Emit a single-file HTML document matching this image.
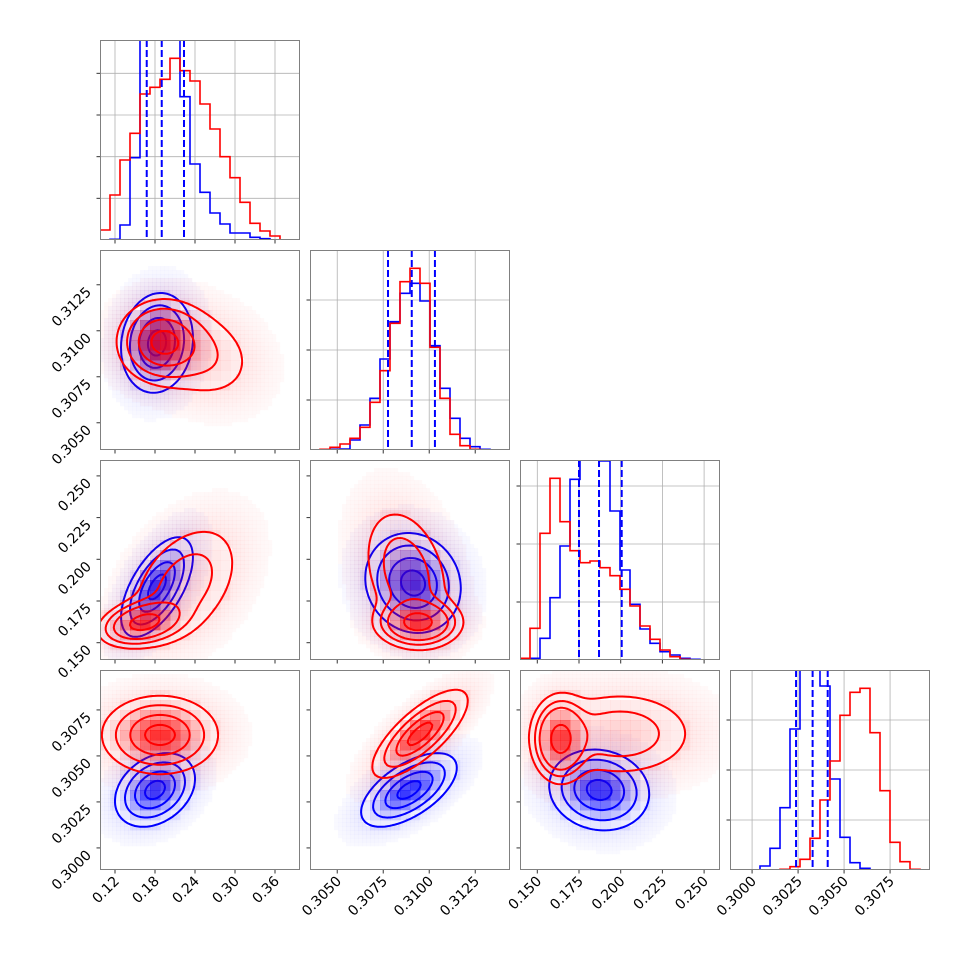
<!DOCTYPE html>
<html><head><meta charset="utf-8"><style>
html,body{margin:0;padding:0;background:#fff;}
svg{display:block;font-family:"DejaVu Sans","Liberation Sans",sans-serif;}
</style></head><body>
<svg id="chart" width="970" height="970" viewBox="0 0 970 970"></svg>
<script>
// ---- data ----
const paramLo = [0.0975, 0.30352, 0.13963, 0.29880];
const paramHi = [0.3975, 0.31439, 0.25953, 0.30967];
const tickP1 = [0.12, 0.18, 0.24, 0.30, 0.36];
const tickP2 = [0.3050, 0.3075, 0.3100, 0.3125];
const tickP3 = [0.150, 0.175, 0.200, 0.225, 0.250];
const tickP4 = [0.3000, 0.3025, 0.3050, 0.3075];
const tickLabP1 = ["0.12","0.18","0.24","0.30","0.36"];
const tickLabP2 = ["0.3050","0.3075","0.3100","0.3125"];
const tickLabP3 = ["0.150","0.175","0.200","0.225","0.250"];
const tickLabP4 = ["0.3000","0.3025","0.3050","0.3075"];
// histogram counts (20 bins each), scale: 600 = full panel height
const histRed1 = [30,135,240,320,438,458,482,545,508,477,408,333,250,187,113,50,27,12,0,0];
const histBlue1 = [0,2,45,247,700,750,720,700,430,228,143,81,48,21,21,8,4,0,0,0];
const histRed2 = [0,2,8,18,35,68,143,238,380,505,545,500,308,155,47,13,2,0,0,0];
const histBlue2 = [0,0,2,3,30,75,155,273,385,470,500,447,313,185,95,35,10,2,0,0];
const histRed3 = [5,95,380,545,415,328,292,297,277,253,212,162,102,62,30,10,2,0,0,0];
const histBlue3 = [0,5,65,187,342,542,700,700,597,447,270,167,93,50,25,15,5,2,0,0];
const histRed4 = [0,0,0,0,0,2,10,32,95,210,327,464,533,545,412,238,83,25,2,0];
const histBlue4 = [0,0,0,12,65,187,423,700,700,552,273,98,22,5,0,0,0,0,0,0];
const histYTicks1 = [125,250,375,500];
const histYTicks2 = [150,300,450];
const histYTicks3 = [174,348,522];
const histYTicks4 = [150,300,450];
const quantP1 = [0.1676, 0.1901, 0.2235];
const quantP2 = [0.30776, 0.30905, 0.31031];
const quantP3 = [0.1750, 0.1870, 0.2006];
const quantP4 = [0.30239, 0.30329, 0.30411];
// 2D gaussian-mixture components: [meanX, meanY, sdX, sdY, rho, weight]
const blue10 = [[0.183,0.30934,0.027,0.00136,0.1,1]];
const red10 = [[0.19,0.3094,0.033,0.0011,0,0.65],[0.25,0.3087,0.045,0.0014,-0.2,0.35]];
const blue20 = [[0.183,0.1834,0.027,0.0150,0.6,1]];
const red20 = [[0.162,0.162,0.030,0.0065,0.3,0.45],[0.225,0.185,0.045,0.020,0.4,0.55]];
const blue21 = [[0.30912,0.1858,0.0013,0.0150,-0.1,1]];
const red21 = [[0.3094,0.162,0.0011,0.007,0,0.45],[0.30876,0.192,0.0013,0.022,-0.3,0.55]];
const blue30 = [[0.18,0.30315,0.030,0.0010,0.3,1]];
const red30 = [[0.1875,0.30614,0.045,0.0011,0,1]];
const blue31 = [[0.3089,0.30315,0.0013,0.0010,0.6,1]];
const red31 = [[0.3095,0.3062,0.0013,0.0012,0.75,1]];
const blue32 = [[0.1871,0.30315,0.015,0.0011,-0.1,1]];
const red32 = [[0.1636,0.3059,0.008,0.0011,0,0.45],[0.1996,0.3062,0.025,0.0013,0,0.55]];

const ticksAll = [tickP1,tickP2,tickP3,tickP4];
const labsAll = [tickLabP1,tickLabP2,tickLabP3,tickLabP4];
const histsRed = [histRed1,histRed2,histRed3,histRed4];
const histsBlue = [histBlue1,histBlue2,histBlue3,histBlue4];
const histYT = [histYTicks1,histYTicks2,histYTicks3,histYTicks4];
const quants = [quantP1,quantP2,quantP3,quantP4];
const mix = {"1_0":[blue10,red10],"2_0":[blue20,red20],"2_1":[blue21,red21],"3_0":[blue30,red30],"3_1":[blue31,red31],"3_2":[blue32,red32]};

const NS = "http://www.w3.org/2000/svg";
const svg = document.getElementById("chart");
const S = 200;
function px0(c){return 100+210*c;}
function py0(r){return 40+210*r;}
function xScale(p,v){return px0(p)+(v-paramLo[p])/(paramHi[p]-paramLo[p])*S;}
function yScale(p,row,v){return py0(row)+S-(v-paramLo[p])/(paramHi[p]-paramLo[p])*S;}
function mk(tag, attrs, parent){const e=document.createElementNS(NS,tag);for(const k in attrs)e.setAttribute(k,attrs[k]);(parent||svg).appendChild(e);return e;}

const defs = mk("defs",{});
for(let r=0;r<4;r++)for(let c=0;c<=r;c++){
  const cp=mk("clipPath",{id:"cp"+r+c},defs);
  mk("rect",{x:px0(c),y:py0(r),width:S,height:S},cp);
}

function density(comps,x,y){
  let s=0;
  for(const [mx,my,sx,sy,rho,w] of comps){
    const dx=(x-mx)/sx, dy=(y-my)/sy;
    const z=(dx*dx-2*rho*dx*dy+dy*dy)/(1-rho*rho);
    s+=w/(sx*sy*Math.sqrt(1-rho*rho))*Math.exp(-z/2);
  }
  return s;
}

function draw2D(r,c,comps,color,rgb){
  const g=mk("g",{"clip-path":"url(#cp"+r+c+")"});
  
  
  const N=81;
  const grid=[];const vals=[];
  for(let j=0;j<N;j++){grid.push([]);for(let i=0;i<N;i++){
    const xv=paramLo[c]+(paramHi[c]-paramLo[c])*i/(N-1);
    const yv=paramHi[r]-(paramHi[r]-paramLo[r])*j/(N-1);
    const d=density(comps,xv,yv);grid[j].push(d);vals.push(d);}}
  const sorted=vals.slice().sort((a,b)=>b-a);
  const tot=sorted.reduce((a,b)=>a+b,0);
  const levelsMass=[0.118,0.393,0.675,0.865];
  const thr=levelsMass.map(m=>{let cum=0;for(const v of sorted){cum+=v;if(cum>=m*tot)return v;}return 0;});
  const outer=thr[3], dmax=sorted[0];
  // haze (scatter cloud)
  const hN=50, hs=S/hN;
  for(let j=0;j<hN;j++)for(let i=0;i<hN;i++){
    const xv=paramLo[c]+(paramHi[c]-paramLo[c])*(i+0.5)/hN;
    const yv=paramHi[r]-(paramHi[r]-paramLo[r])*(j+0.5)/hN;
    const d=density(comps,xv,yv);
    if(d<outer && d>outer*0.06){
      const a=0.09*Math.sqrt(d/outer);
      mk("rect",{x:px0(c)+i*hs,y:py0(r)+j*hs,width:hs+0.3,height:hs+0.3,fill:"rgba("+rgb+","+a.toFixed(3)+")"},g);
    }
  }
  // heatmap bins
  const bN=20, bs=S/bN;
  for(let j=0;j<bN;j++)for(let i=0;i<bN;i++){
    const xv=paramLo[c]+(paramHi[c]-paramLo[c])*(i+0.5)/bN;
    const yv=paramHi[r]-(paramHi[r]-paramLo[r])*(j+0.5)/bN;
    const d=density(comps,xv,yv);
    if(d>=outer*0.9){
      const a=0.06+0.75*Math.pow(Math.max(0,(d-outer*0.9)/(dmax-outer*0.9)),1.3);
      mk("rect",{x:px0(c)+i*bs,y:py0(r)+j*bs,width:bs+0.3,height:bs+0.3,fill:"rgba("+rgb+","+Math.min(0.85,a).toFixed(3)+")"},g);
    }
  }
  // contours (marching squares)
  const step=S/(N-1);
  thr.forEach((t,li)=>{
    let dstr="";
    for(let j=0;j<N-1;j++)for(let i=0;i<N-1;i++){
      const v=[grid[j][i],grid[j][i+1],grid[j+1][i+1],grid[j+1][i]];
      const pts=[[0,0],[1,0],[1,1],[0,1]];
      const cr=[];
      for(let e=0;e<4;e++){
        const a=v[e],b=v[(e+1)%4];
        if((a>=t)!==(b>=t)){
          const f=(t-a)/(b-a);
          const p=pts[e],q=pts[(e+1)%4];
          cr.push([px0(c)+(i+p[0]+(q[0]-p[0])*f)*step, py0(r)+(j+p[1]+(q[1]-p[1])*f)*step]);
        }
      }
      for(let k=0;k+1<cr.length;k+=2){
        dstr+="M"+cr[k][0].toFixed(1)+","+cr[k][1].toFixed(1)+"L"+cr[k+1][0].toFixed(1)+","+cr[k+1][1].toFixed(1);
      }
    }
    const p=mk("path",{d:dstr,fill:"none",stroke:color,"stroke-width":2,"stroke-linecap":"round"},g);
    
    
  });
}

function drawHist(k){
  const x0=px0(k), y0=py0(k);
  const g=mk("g",{"clip-path":"url(#cp"+k+k+")"});
  
  
  ticksAll[k].forEach(v=>{const x=xScale(k,v);mk("line",{x1:x,x2:x,y1:y0,y2:y0+S,stroke:"#b0b0b0","stroke-width":0.8},g);});
  histYT[k].forEach(v=>{const y=y0+S-v/600*S;mk("line",{x1:x0,x2:x0+S,y1:y,y2:y,stroke:"#b0b0b0","stroke-width":0.8},g);});
  [[histsBlue[k],"blue"],[histsRed[k],"red"]].forEach(([h,col])=>{
    const bw=S/h.length;
    let d="M"+x0+","+(y0+S);
    h.forEach((v,i)=>{const y=y0+S-v/600*S;d+="L"+(x0+i*bw)+","+y+"L"+(x0+(i+1)*bw)+","+y;});
    d+="L"+(x0+S)+","+(y0+S);
    const p=mk("path",{d:d,fill:"none",stroke:col,"stroke-width":1.6},g);
    
    
  });
  quants[k].forEach((q,i)=>{
    const x=xScale(k,q);
    const l=mk("line",{x1:x,x2:x,y1:y0,y2:y0+S,stroke:"blue","stroke-width":2,"stroke-dasharray":"7,3"},g);
    
    
  });
  histYT[k].forEach(v=>{const y=y0+S-v/600*S;mk("line",{x1:x0-3.5,x2:x0,y1:y,y2:y,stroke:"#333","stroke-width":1});});
}

for(let r=0;r<4;r++)for(let c=0;c<=r;c++){
  const bg=mk("rect",{x:px0(c),y:py0(r),width:S,height:S,fill:"#fff"});
  
  
  if(r===c) drawHist(r);
  else { const m=mix[r+"_"+c]; draw2D(r,c,m[0],"blue","0,0,255"); draw2D(r,c,m[1],"red","255,0,0"); }
  ticksAll[c].forEach(v=>{const x=xScale(c,v);mk("line",{x1:x,x2:x,y1:py0(r)+S,y2:py0(r)+S+3.5,stroke:"#333","stroke-width":1});});
  if(r!==c) ticksAll[r].forEach(v=>{const y=yScale(r,r,v);mk("line",{x1:px0(c)-3.5,x2:px0(c),y1:y,y2:y,stroke:"#333","stroke-width":1});});
  const fr=mk("rect",{x:px0(c)+0.5,y:py0(r)+0.5,width:S-1,height:S-1,fill:"none",stroke:"#808080","stroke-width":1});
  
  
}
for(let c=0;c<4;c++){
  ticksAll[c].forEach((v,i)=>{
    const x=xScale(c,v);
    const t=mk("text",{transform:"translate("+(x+5)+","+(py0(3)+S+12)+") rotate(-45)","text-anchor":"end","font-size":14,fill:"#000"});
    t.textContent=labsAll[c][i];
    
    
  });
}
for(let r=1;r<4;r++){
  ticksAll[r].forEach((v,i)=>{
    const y=yScale(r,r,v);
    const t=mk("text",{transform:"translate("+(px0(0)-8)+","+(y+8)+") rotate(-45)","text-anchor":"end","font-size":14,fill:"#000"});
    t.textContent=labsAll[r][i];
    
    
  });
}
</script>
</body></html>
